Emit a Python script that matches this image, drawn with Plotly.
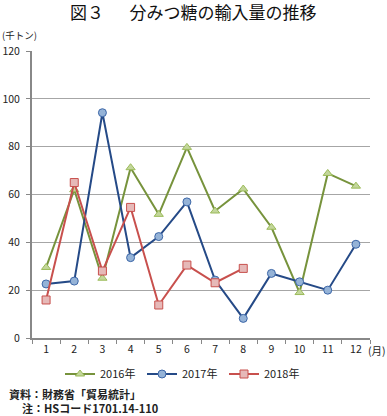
import plotly.graph_objects as go

months = [str(i) for i in range(1, 13)]
v2016 = [29.5, 62, 25, 71.2, 51.7, 79.7, 53.1, 62.3, 46.3, 19, 68.8, 63.5]
v2017 = [22.6, 23.8, 94.2, 33.6, 42.4, 56.9, 24.2, 8.2, 27, 23.5, 20, 39.2]
v2018 = [15.9, 65, 28, 54.6, 13.8, 30.5, 23.1, 29.1]
series_names = ["2016年", "2017年", "2018年"]

FONT = "Noto Sans CJK JP"
L, R, T, B = 32, 17, 51, 78
W, H = 387, 416
PW, PH = W - L - R, H - T - B

def px(x):
    return (x - L) / PW

def py(y):
    return (H - B - y) / PH

fig = go.Figure()
fig.add_trace(go.Scatter(
    x=months, y=v2016, name=series_names[0], mode="lines+markers",
    line=dict(color="#77933c", width=2),
    marker=dict(symbol="triangle-up", size=8, color="#c3d69b",
                line=dict(color="#9bbb59", width=1))))
fig.add_trace(go.Scatter(
    x=months, y=v2017, name=series_names[1], mode="lines+markers",
    line=dict(color="#254a87", width=2),
    marker=dict(symbol="circle", size=8, color="#95b3d7",
                line=dict(color="#3d67a8", width=1))))
fig.add_trace(go.Scatter(
    x=months[:len(v2018)], y=v2018, name=series_names[2], mode="lines+markers",
    line=dict(color="#c8504d", width=2),
    marker=dict(symbol="square", size=8, color="#e6b9b8",
                line=dict(color="#c8504d", width=1))))

fig.update_layout(
    width=W, height=H,
    margin=dict(l=L, r=R, t=T, b=B, autoexpand=False),
    paper_bgcolor="white", plot_bgcolor="white",
    font=dict(family=FONT, size=10.5, color="#222"),
    showlegend=True,
    legend=dict(orientation="h", x=px(60), y=py(374), xanchor="left", yanchor="middle",
                entrywidth=37, entrywidthmode="pixels", itemwidth=30,
                font=dict(size=11, family=FONT, color="#222"),
                bgcolor="rgba(0,0,0,0)"),
    title=dict(text="図３　\u2002分みつ糖の輸入量の推移", x=px(70), xref="paper", xanchor="left",
               y=1 - 13 / H, yanchor="middle",
               font=dict(size=17, family=FONT, color="#111")),
    xaxis=dict(type="category", range=[-0.5, 11.5], showgrid=False,
               showline=True, linecolor="#888", linewidth=2,
               ticks="outside", tickson="boundaries", ticklen=4, tickcolor="#888",
               tickfont=dict(size=10.5, family=FONT, color="#222"),
               fixedrange=True),
    yaxis=dict(range=[0, 120], dtick=20, showgrid=True, gridcolor="#a6a6a6", gridwidth=1,
               showline=True, linecolor="#888", linewidth=2,
               ticks="outside", ticklen=4, tickcolor="#888", ticklabelstandoff=4,
               tickfont=dict(size=10.5, family=FONT, color="#222"),
               zeroline=False, fixedrange=True),
)

fig.add_annotation(text="(千トン)", xref="paper", yref="paper", x=px(0), y=py(35),
                   xanchor="left", yanchor="middle", showarrow=False,
                   font=dict(size=9.5, family=FONT, color="#222"))
fig.add_annotation(text="(月)", xref="paper", yref="paper", x=px(366), y=py(350),
                   xanchor="left", yanchor="middle", showarrow=False,
                   font=dict(size=10.5, family=FONT, color="#222"))
fig.add_annotation(text="<b>資料：財務省「貿易統計」</b>", xref="paper", yref="paper",
                   x=px(7), y=py(393.5), xanchor="left", yanchor="middle", showarrow=False,
                   font=dict(size=11, family=FONT, color="#222"))
fig.add_annotation(text="<b>注：HSコード1701.14-110</b>", xref="paper", yref="paper",
                   x=px(20), y=py(408.3), xanchor="left", yanchor="middle", showarrow=False,
                   font=dict(size=11, family=FONT, color="#222"))

fig.write_html("out.html", config={"displayModeBar": False},
               post_script="document.body.style.margin='0';document.body.style.overflow='hidden';")
